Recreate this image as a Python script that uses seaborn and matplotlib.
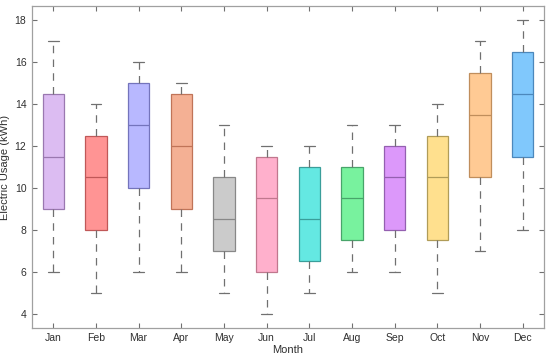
import numpy as np
import pandas as pd
import matplotlib
matplotlib.use("Agg")
import matplotlib.pyplot as plt
import seaborn as sns

# five-number summaries: low whisker, Q1, median, Q3, high whisker
months = ['Jan', 'Feb', 'Mar', 'Apr', 'May', 'Jun', 'Jul', 'Aug', 'Sep', 'Oct', 'Nov', 'Dec']
low = [6, 5, 6, 6, 5, 4, 5, 6, 6, 5, 7, 8]
q1 = [9, 8, 10, 9, 7, 6, 6.5, 7.5, 8, 7.5, 10.5, 11.5]
median = [11.5, 10.5, 13, 12, 8.5, 9.5, 8.5, 9.5, 10.5, 10.5, 13.5, 14.5]
q3 = [14.5, 12.5, 15, 14.5, 10.5, 11.5, 11, 11, 12, 12.5, 15.5, 16.5]
high = [17, 14, 16, 15, 13, 12, 12, 13, 13, 14, 17, 18]

face_colors = ['#dcbcf2', '#ff9494', '#b8b8ff', '#f4b094', '#cbcbcb', '#ffb0cc',
               '#64e8e2', '#78f29e', '#dc98fa', '#ffe08e', '#ffca94', '#80c8fc']
edge_colors = ['#9a78b0', '#c05858', '#7474bc', '#c07458', '#888888', '#c0788e',
               '#3a9e9a', '#48a46a', '#9460b0', '#b09c58', '#c08e5c', '#4c88bc']

# five points per month reproduce the quartiles exactly (linear interpolation)
rows = []
for m, a, b, c, d, e in zip(months, low, q1, median, q3, high):
    for v in (a, b, c, d, e):
        rows.append({'Month': m, 'Usage': v})
df = pd.DataFrame(rows)

sns.set_style("ticks")
plt.rcParams['font.family'] = ['Liberation Sans', 'DejaVu Sans']

fig = plt.figure(figsize=(5.5, 3.58), dpi=100)
ax = fig.add_axes([0.058, 0.084, 0.931, 0.899])

sns.boxplot(data=df, x='Month', y='Usage', hue='Month', order=months,
            palette=face_colors, legend=False, width=0.5, whis=np.inf,
            linewidth=0.9, saturation=1, ax=ax,
            whiskerprops={'linestyle': (0, (6, 5)), 'color': '#707070'},
            capprops={'color': '#707070'})

# darker outline and median per box
for patch in ax.patches:
    verts = patch.get_path().vertices
    i = int(round(verts[:, 0].mean()))
    patch.set_edgecolor(edge_colors[i])
for line in ax.lines:
    x = np.asarray(line.get_xdata(), dtype=float)
    if len(x) == 2 and x[0] != x[1]:
        i = int(round(x.mean()))
        if abs(abs(x[1] - x[0]) - 0.5) < 0.01:
            line.set_color(edge_colors[i])
            line.set_linewidth(0.9)
        else:
            line.set_color('#707070')

ax.set_ylim(3.33, 18.67)
ax.set_xlim(-0.5, 11.5)
ax.set_yticks(range(4, 19, 2))
ax.set_xlabel('Month', fontsize=8, color='#303030', labelpad=1)
ax.set_ylabel('Electric Usage (kWh)', fontsize=8, color='#303030', labelpad=3)
ax.tick_params(axis='both', which='major', direction='in', length=3.5, width=0.8,
               color='#707070', labelsize=7.5, labelcolor='#303030', pad=4,
               top=True, right=True, bottom=True, left=True)
for s in ax.spines.values():
    s.set_visible(True)
    s.set_color('#a0a0a0')
    s.set_linewidth(0.9)

fig.savefig('out.png', dpi=100)
